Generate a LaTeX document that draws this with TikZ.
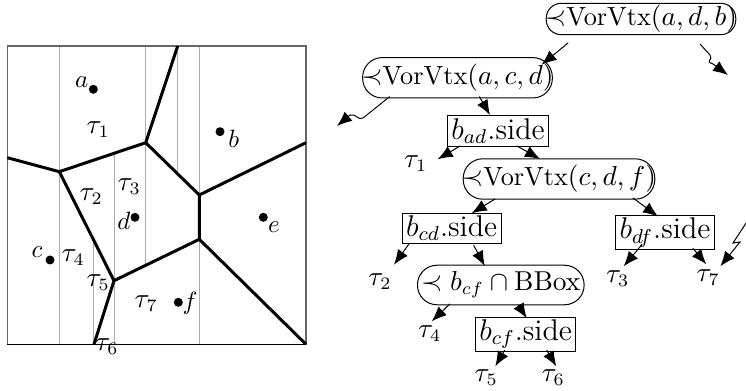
\documentclass[tikz,border=0pt]{standalone}
\usepackage{amsmath,amssymb}
\usetikzlibrary{arrows.meta,calc}
\tikzset{
 vtx/.style={draw,rectangle,rounded corners=7.8pt,font=\fontsize{10.5}{12}\selectfont,inner xsep=-0.5pt,inner ysep=2.6pt},
 sidebox/.style={draw,rectangle,font=\large,inner xsep=1.5pt,inner ysep=1pt,minimum height=12pt},
 leaf/.style={inner sep=0.5pt,font=\fontsize{10.5}{12}\selectfont},
 arr/.style={-{Latex[length=6pt,width=4.8pt]},line cap=round},
 site/.style={circle,fill,inner sep=0pt,minimum size=3.6pt},
 vor/.style={very thick,line join=round},
 trap/.style={gray!65,thin},
}

\begin{document}
\begin{tikzpicture}[x=0.4pt,y=-0.4pt]
\useasboundingbox (0,0) rectangle (746,391);
% trapezoid walls
\foreach \x/\ya/\yb in {59.3/46/344.3,93.3/239.5/344.3,114/153.3/344.3,145.7/46/265.3,177.7/46/174.2,199.3/46/344.3}{
 \draw[trap] (\x,\ya) -- (\x,\yb);
}
\draw[black!60,semithick] (7.3,46) rectangle (306,344.3);
\draw[semithick] (7.3,344.3) -- (306,344.3);
% Voronoi diagram
\coordinate (v1) at (145.7,142.7);
\coordinate (v2) at (59.3,171.7);
\coordinate (v3) at (199.3,195);
\coordinate (v4) at (199.3,239.3);
\coordinate (v5) at (114,280.7);
\draw[vor] (177.7,46) -- (v1) -- (v2) -- (7.3,157.7);
\draw[vor] (v1) -- (v3) -- (306,142.7);
\draw[vor] (v3) -- (v4) -- (306,344.3);
\draw[vor] (v2) -- (v5) -- (v4);
\draw[vor] (v5) -- (94,344.3);
\foreach \n/\x/\y in {a/93.3/89.3,b/220/131.7,c/50/260,d/135/217.3,e/263.3/217.3,f/178.3/302.3}{
 \node[site] (s\n) at (\x,\y) {};
}
\node (la) at (81.7,81.7) {$a$};
\node (lb) at (233.7,139.2) {$b$};
\node (lc) at (37,251.7) {$c$};
\node (ld) at (124,221.3) {$d$};
\node (le) at (274,226.7) {$e$};
\node (lf) at (190,303.3) {$f$};
\node[leaf] (r1) at (98.3,129.2) {$\tau_1$};
\node[leaf] (r2) at (91.3,196.7) {$\tau_2$};
\node[leaf] (r3) at (129.2,186.7) {$\tau_3$};
\node[leaf] (r4) at (73.3,257.5) {$\tau_4$};
\node[leaf] (r5) at (98.3,282.5) {$\tau_5$};
\node[leaf] (r6) at (107,346.7) {$\tau_6$};
\node[leaf] (r7) at (146.3,304) {$\tau_7$};
% search structure
\node[vtx,inner ysep=0.8pt,rounded corners=6pt] (root) at (641,19) {$\prec$VorVtx$(a,d,b)$};
\node[vtx] (acd) at (457.5,77.8) {$\prec$VorVtx$(a,c,d)$};
\node[sidebox] (bad) at (498,131) {$b_{ad}$.side};
\node[leaf] (t1) at (415.7,163.3) {$\tau_1$};
\node[vtx] (cdf) at (559,179) {$\prec$VorVtx$(c,d,f)$};
\node[sidebox] (bcd) at (451.7,228.3) {$b_{cd}$.side};
\node[sidebox] (bdf) at (665,232.5) {$b_{df}$.side};
\node[leaf] (t2) at (380,281.7) {$\tau_2$};
\node[vtx,inner xsep=1.5pt] (bcfcap) at (500.8,285) {$\prec b_{cf}\cap\mathrm{BBox}$};
\node[leaf] (t3) at (617.7,278.3) {$\tau_3$};
\node[leaf] (t7) at (708.3,277.3) {$\tau_7$};
\node[leaf] (t4) at (429.7,333.3) {$\tau_4$};
\node[sidebox] (bcf) at (525.7,334.2) {$b_{cf}$.side};
\node[leaf] (t5) at (486.3,377.3) {$\tau_5$};
\node[leaf] (t6) at (553.3,377.3) {$\tau_6$};
\draw[arr] ($(root)+(-73,24)$) -- ($(acd)+(84,-13)$);
\draw[arr] ($(acd)+(22,19)$) -- ($(bad)+(-8,-16)$);
\draw[arr] ($(bad)+(-38,15)$) -- ($(t1)+(22,-4)$);
\draw[arr] ($(bad)+(19,15)$) -- ($(cdf)+(-19,-20)$);
\draw[arr] ($(cdf)+(-64,20)$) -- ($(bcd)+(20,-15)$);
\draw[arr] ($(cdf)+(74,19)$) -- ($(bdf)+(-7,-16)$);
\draw[arr] ($(bcd)+(-43,16)$) -- ($(t2)+(14,-17)$);
\draw[arr] ($(bcd)+(22,17)$) -- ($(bcfcap)+(-16,-19)$);
\draw[arr] ($(bdf)+(-23,12)$) -- ($(t3)+(6,-12)$);
\draw[arr] ($(bdf)+(28,16)$) -- ($(t7)+(-2,-13)$);
\draw[arr] ($(bcfcap)+(-51,19)$) -- ($(t4)+(2,-12)$);
\draw[arr] ($(bcfcap)+(17.5,20)$) -- ($(bcf)+(1,-16)$);
\draw[arr] ($(bcf)+(-21,16)$) -- ($(t5)+(9,-11)$);
\draw[arr] ($(bcf)+(21,16)$) -- ($(t6)+(3,-11)$);
% subtrees not shown
\coordinate (rootout) at (728,75);
\coordinate (acdout) at (337,126);
\coordinate (t7in) at (752,214);
\draw[arr] ($(root)+(59,25)$) -- (710,55) .. controls (714,60) and (704,61) .. (713,64) -- (rootout);
\draw[arr] ($(acd)+(-68,19)$) -- (363,118) .. controls (358,121) and (356,113) .. (350,115) -- (acdout);
\draw[arr] (t7in) -- (733,243) -- (740,242) -- ($(t7)+(12,-11)$);
\end{tikzpicture}
\end{document}
